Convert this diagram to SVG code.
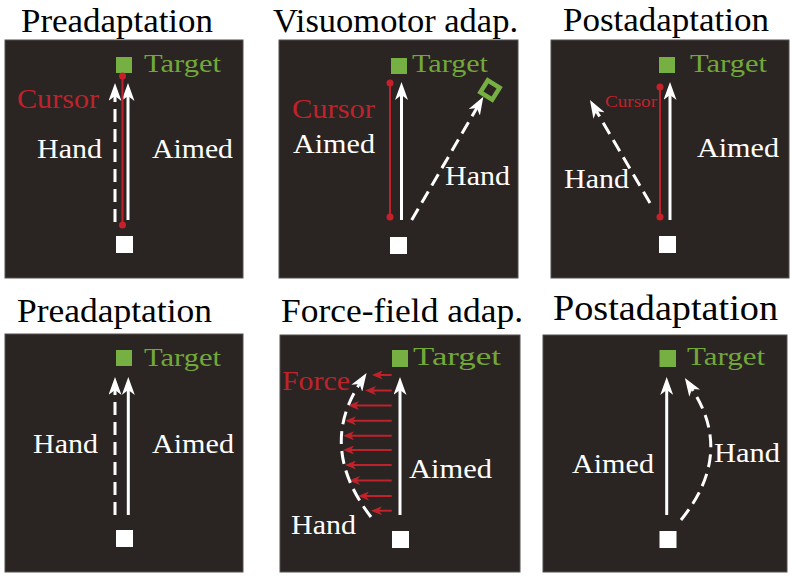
<svg xmlns="http://www.w3.org/2000/svg" width="796" height="578" viewBox="0 0 796 578">
<style>
  .panel { fill: #2a2523; stroke: #55504d; stroke-width: 1; }
  text { font-family: 'Liberation Serif', 'Times New Roman', Tinos, 'DejaVu Serif', serif; }
  .title { font-size: 33px; fill: #000; }
  .lbl { font-size: 27px; fill: #ffffff; }
  .tgt { font-size: 26px; fill: #72a83a; }
  .cur { font-size: 27px; fill: #c0222b; }
  .gsq { fill: #76b043; }
  .wsq { fill: #ffffff; }
  .aim { stroke: #ffffff; stroke-width: 3; fill: none; marker-end: url(#wArrow); }
  .hand { stroke: #ffffff; stroke-width: 3; fill: none; stroke-dasharray: 13 7; marker-end: url(#wArrow); }
  .rline { stroke: #c0222b; stroke-width: 2; fill: none; }
  .rdot { fill: #c8202a; }
  .force { stroke: #c0222b; stroke-width: 2; fill: none; marker-end: url(#rArrow); }
</style>
<defs>
  <marker id="wArrow" viewBox="0 0 18 13" markerWidth="18" markerHeight="13" refX="5" refY="6.5" orient="auto" markerUnits="userSpaceOnUse">
    <path d="M18,6.5 L0,0 L5,6.5 L0,13 Z" fill="#ffffff"/>
  </marker>
  <marker id="rArrow" viewBox="0 0 11 9" markerWidth="11" markerHeight="9" refX="3" refY="4.5" orient="auto" markerUnits="userSpaceOnUse">
    <path d="M11,4.5 L0,0 L3,4.5 L0,9 Z" fill="#c0222b"/>
  </marker>
</defs>
<rect width="796" height="578" fill="#ffffff"/>

<!-- Panel 1: Preadaptation (visuomotor) -->
<g id="panel1">
  <text class="title" x="21" y="32" textLength="192" lengthAdjust="spacingAndGlyphs">Preadaptation</text>
  <rect class="panel" x="5" y="40" width="238" height="238"/>
  <g id="p1-target"><rect class="gsq" x="116" y="57" width="16" height="16"/><text class="tgt" x="144" y="72" textLength="77" lengthAdjust="spacingAndGlyphs">Target</text></g>
  <g id="p1-start"><rect class="wsq" x="116" y="236" width="17" height="17"/></g>
  <g id="p1-labels">
    <text class="cur" x="17" y="108" textLength="82" lengthAdjust="spacingAndGlyphs">Cursor</text>
    <text class="lbl" x="37" y="158" textLength="65" lengthAdjust="spacingAndGlyphs">Hand</text>
    <text class="lbl" x="152" y="158" textLength="81" lengthAdjust="spacingAndGlyphs">Aimed</text>
  </g>
  <g id="p1-connectors">
    <line class="hand" x1="115" y1="222" x2="115" y2="96"/>
    <line class="aim" x1="128" y1="220" x2="128" y2="96"/>
    <line class="rline" x1="122.5" y1="76" x2="122.5" y2="225"/>
    <circle class="rdot" cx="122.5" cy="76" r="3.5"/>
    <circle class="rdot" cx="122.5" cy="225" r="3.5"/>
  </g>
</g>

<!-- Panel 2: Visuomotor adap. -->
<g id="panel2">
  <text class="title" x="273" y="32" textLength="245" lengthAdjust="spacingAndGlyphs">Visuomotor adap.</text>
  <rect class="panel" x="279" y="40" width="239" height="238"/>
  <g id="p2-target"><rect class="gsq" x="391" y="58" width="16" height="16"/><text class="tgt" x="412" y="72" textLength="76" lengthAdjust="spacingAndGlyphs">Target</text></g>
  <g id="p2-rotated-target"><rect x="483" y="83" width="14" height="14" fill="none" stroke="#76b043" stroke-width="4.5" transform="rotate(32 490 90)"/></g>
  <g id="p2-start"><rect class="wsq" x="390" y="237" width="17" height="17"/></g>
  <g id="p2-labels">
    <text class="cur" x="292" y="118" textLength="83" lengthAdjust="spacingAndGlyphs">Cursor</text>
    <text class="lbl" x="293" y="153" textLength="82" lengthAdjust="spacingAndGlyphs">Aimed</text>
    <text class="lbl" x="445" y="185" textLength="65" lengthAdjust="spacingAndGlyphs">Hand</text>
  </g>
  <g id="p2-connectors">
    <line class="rline" x1="390" y1="83" x2="390" y2="217"/>
    <circle class="rdot" cx="390" cy="83" r="3.5"/>
    <circle class="rdot" cx="390" cy="217" r="3.5"/>
    <line class="aim" x1="401.5" y1="220" x2="401.5" y2="95"/>
    <line class="hand" x1="411.7" y1="220" x2="476.8" y2="108"/>
  </g>
</g>

<!-- Panel 3: Postadaptation (visuomotor) -->
<g id="panel3">
  <text class="title" x="563" y="31" textLength="206" lengthAdjust="spacingAndGlyphs">Postadaptation</text>
  <rect class="panel" x="551" y="40" width="238" height="238"/>
  <g id="p3-target"><rect class="gsq" x="659" y="57" width="16" height="16"/><text class="tgt" x="690" y="72" textLength="77" lengthAdjust="spacingAndGlyphs">Target</text></g>
  <g id="p3-start"><rect class="wsq" x="659" y="236" width="17" height="17"/></g>
  <g id="p3-labels">
    <text class="cur" x="605" y="107" style="font-size:17px" textLength="52" lengthAdjust="spacingAndGlyphs">Cursor</text>
    <text class="lbl" x="697" y="157" textLength="82" lengthAdjust="spacingAndGlyphs">Aimed</text>
    <text class="lbl" x="564" y="188" textLength="65" lengthAdjust="spacingAndGlyphs">Hand</text>
  </g>
  <g id="p3-connectors">
    <line class="rline" x1="660" y1="87" x2="660" y2="217"/>
    <circle class="rdot" cx="660" cy="87" r="3.5"/>
    <circle class="rdot" cx="660" cy="217" r="3.5"/>
    <line class="aim" x1="670" y1="220" x2="670" y2="95"/>
    <line class="hand" x1="650" y1="203" x2="596.5" y2="111.2"/>
  </g>
</g>

<!-- Panel 4: Preadaptation (force field) -->
<g id="panel4">
  <text class="title" x="17" y="322" textLength="195" lengthAdjust="spacingAndGlyphs">Preadaptation</text>
  <rect class="panel" x="5" y="334" width="238" height="238"/>
  <g id="p4-target"><rect class="gsq" x="116" y="350" width="16" height="16"/><text class="tgt" x="144" y="366" textLength="77" lengthAdjust="spacingAndGlyphs">Target</text></g>
  <g id="p4-start"><rect class="wsq" x="116" y="530" width="17" height="17"/></g>
  <g id="p4-labels">
    <text class="lbl" x="33" y="453" textLength="65" lengthAdjust="spacingAndGlyphs">Hand</text>
    <text class="lbl" x="152" y="453" textLength="82" lengthAdjust="spacingAndGlyphs">Aimed</text>
  </g>
  <g id="p4-connectors">
    <line class="hand" x1="115" y1="515" x2="115" y2="390"/>
    <line class="aim" x1="128.3" y1="515" x2="128.3" y2="390"/>
  </g>
</g>

<!-- Panel 5: Force-field adap. -->
<g id="panel5">
  <text class="title" x="281" y="322" textLength="242" lengthAdjust="spacingAndGlyphs">Force-field adap.</text>
  <rect class="panel" x="280" y="335" width="240" height="237"/>
  <g id="p5-target"><rect class="gsq" x="392" y="350" width="16" height="17"/><text class="tgt" x="413" y="365" textLength="88" lengthAdjust="spacingAndGlyphs">Target</text></g>
  <g id="p5-start"><rect class="wsq" x="392" y="531" width="17" height="17"/></g>
  <g id="p5-labels">
    <text class="cur" x="282" y="390" textLength="68" lengthAdjust="spacingAndGlyphs">Force</text>
    <text class="lbl" x="409" y="478" textLength="83" lengthAdjust="spacingAndGlyphs">Aimed</text>
    <text class="lbl" x="291" y="534" textLength="65" lengthAdjust="spacingAndGlyphs">Hand</text>
  </g>
  <g id="p5-connectors">
    <line class="force" x1="391.7" y1="375" x2="379.7" y2="375"/>
    <line class="force" x1="391.7" y1="390.5" x2="373" y2="390.5"/>
    <line class="force" x1="391.7" y1="405.5" x2="356" y2="405.5"/>
    <line class="force" x1="391.7" y1="420.7" x2="353" y2="420.7"/>
    <line class="force" x1="391.7" y1="435.7" x2="351" y2="435.7"/>
    <line class="force" x1="391.7" y1="450" x2="351" y2="450"/>
    <line class="force" x1="391.7" y1="465" x2="353" y2="465"/>
    <line class="force" x1="391.7" y1="480.5" x2="357" y2="480.5"/>
    <line class="force" x1="391.7" y1="496" x2="366" y2="496"/>
    <line class="force" x1="391.7" y1="510.7" x2="379" y2="510.7"/>
    <line class="aim" x1="400" y1="515" x2="400" y2="390"/>
    <path class="hand" d="M371,517 Q318,448 359.5,384"/>
  </g>
</g>

<!-- Panel 6: Postadaptation (force field) -->
<g id="panel6">
  <text class="title" x="553" y="320" style="font-size:35px" textLength="225" lengthAdjust="spacingAndGlyphs">Postadaptation</text>
  <rect class="panel" x="543" y="335" width="244" height="237"/>
  <g id="p6-target"><rect class="gsq" x="659.5" y="350" width="16.5" height="17"/><text class="tgt" x="687" y="365" textLength="78" lengthAdjust="spacingAndGlyphs">Target</text></g>
  <g id="p6-start"><rect class="wsq" x="659.5" y="531" width="17" height="17"/></g>
  <g id="p6-labels">
    <text class="lbl" x="572" y="473" textLength="82" lengthAdjust="spacingAndGlyphs">Aimed</text>
    <text class="lbl" x="714" y="462" textLength="66" lengthAdjust="spacingAndGlyphs">Hand</text>
  </g>
  <g id="p6-connectors">
    <line class="aim" x1="666.7" y1="515" x2="666.7" y2="390"/>
    <path class="hand" d="M681,520 Q734.5,454 692,389"/>
  </g>
</g>
</svg>
